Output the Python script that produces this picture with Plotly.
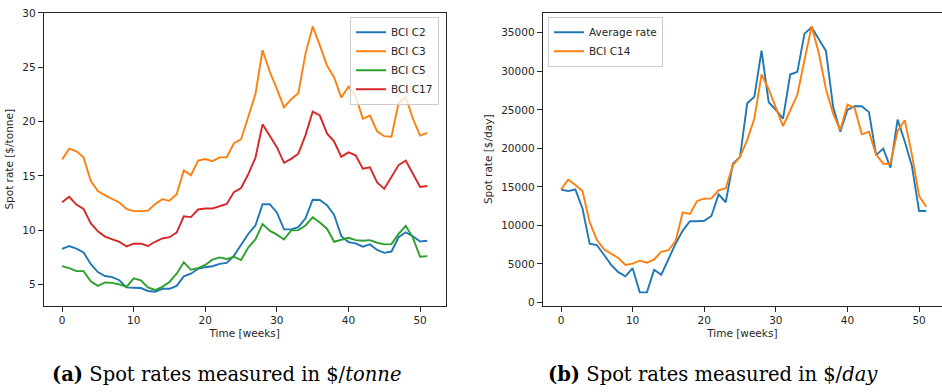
import plotly.graph_objects as go

weeks = list(range(52))

bci_c2 = [8.27, 8.54, 8.30, 7.94, 6.89, 6.14, 5.78, 5.68, 5.39, 4.73, 4.70, 4.67, 4.40, 4.33, 4.60, 4.60,
          4.87, 5.75, 5.99, 6.44, 6.59, 6.68, 6.89, 6.98, 7.64, 8.69, 9.65, 10.43, 12.39, 12.39, 11.63, 10.07,
          10.07, 10.28, 11.09, 12.80, 12.77, 12.30, 11.40, 9.44, 8.90, 8.78, 8.48, 8.69, 8.18, 7.91, 8.03, 9.35,
          9.80, 9.44, 8.96, 9.02]
bci_c3 = [16.5, 17.5, 17.25, 16.7, 14.55, 13.6, 13.2, 12.85, 12.55, 11.95, 11.75, 11.75, 11.8, 12.4, 12.85, 12.7,
          13.3, 15.5, 15.05, 16.4, 16.55, 16.35, 16.7, 16.7, 18.0, 18.35, 20.4, 22.5, 26.56, 24.6, 23.0, 21.3,
          22.05, 22.6, 26.25, 28.75, 27.0, 25.15, 24.05, 22.2, 23.2, 22.35, 20.25, 20.55, 19.1, 18.65, 18.6, 21.7,
          22.25, 20.25, 18.7, 18.95]
bci_c5 = [6.68, 6.50, 6.23, 6.23, 5.30, 4.87, 5.18, 5.15, 5.00, 4.78, 5.57, 5.39, 4.73, 4.49, 4.78, 5.23,
          5.99, 7.04, 6.35, 6.50, 6.80, 7.28, 7.49, 7.34, 7.55, 7.25, 8.39, 9.14, 10.55, 9.95, 9.59, 9.14,
          9.98, 10.00, 10.43, 11.18, 10.70, 10.13, 8.93, 9.08, 9.29, 9.08, 9.02, 9.08, 8.84, 8.69, 8.71, 9.65,
          10.40, 9.29, 7.55, 7.61]
bci_c17 = [12.57, 13.07, 12.35, 11.96, 10.64, 9.89, 9.41, 9.17, 8.93, 8.51, 8.75, 8.75, 8.54, 8.93, 9.23, 9.35,
           9.77, 11.27, 11.20, 11.90, 11.99, 11.99, 12.23, 12.41, 13.50, 13.88, 15.14, 16.65, 19.74, 18.75, 17.64, 16.20,
           16.56, 17.04, 18.75, 20.90, 20.55, 18.90, 18.15, 16.74, 17.16, 16.89, 15.66, 15.78, 14.40, 13.80, 14.85, 15.99,
           16.40, 15.23, 13.97, 14.06]

average_rate = [14665, 14450, 14665, 12200, 7626, 7460, 6190, 4880, 3940, 3390, 4450, 1320, 1320, 4240, 3600, 5640,
                7630, 9330, 10550, 10550, 10600, 11230, 14030, 13010, 18010, 18900, 25850, 26690, 32670, 25980, 25000, 23860,
                29580, 29920, 34880, 35720, 34240, 32630, 25350, 22170, 25000, 25470, 25470, 24700, 19120, 19960, 17500, 23730,
                20900, 17720, 11870, 11870]
bci_c14 = [14665, 15950, 15250, 14450, 10420, 8130, 6910, 6360, 5770, 4880, 5050, 5430, 5170, 5590, 6570, 6780,
           7970, 11690, 11490, 13180, 13470, 13510, 14540, 14830, 17840, 18900, 21100, 23860, 29580, 27670, 25340, 22880,
           24910, 26950, 31480, 35840, 32330, 27670, 24490, 22370, 25670, 25250, 21820, 22170, 19190, 18010, 18010, 22240,
           23640, 19190, 13820, 12420]

left_series = [("BCI C2", bci_c2, "#1f77b4"), ("BCI C3", bci_c3, "#ff7f0e"),
               ("BCI C5", bci_c5, "#2ca02c"), ("BCI C17", bci_c17, "#d62728")]
right_series = [("Average rate", average_rate, "#1f77b4"), ("BCI C14", bci_c14, "#ff7f0e")]

left_yticks = [5, 10, 15, 20, 25, 30]
right_yticks = [0, 5000, 10000, 15000, 20000, 25000, 30000, 35000]
xticks = [0, 10, 20, 30, 40, 50]

W, H = 942, 392
fig = go.Figure()
for name, vals, col in left_series:
    fig.add_trace(go.Scatter(x=weeks, y=vals, name=name, mode="lines",
                             line=dict(color=col, width=1.9), xaxis="x", yaxis="y", legend="legend"))
for name, vals, col in right_series:
    fig.add_trace(go.Scatter(x=weeks, y=vals, name=name, mode="lines",
                             line=dict(color=col, width=1.9), xaxis="x2", yaxis="y2", legend="legend2"))

tickfont = dict(family="DejaVu Sans", size=10.5, color="#262626")
axcommon = dict(showgrid=False, zeroline=False, showline=True, linecolor="#262626", linewidth=1,
                ticks="outside", ticklen=5, tickwidth=1, tickcolor="#262626", tickfont=tickfont)
ybot = (H - 306) / H
ytop = (H - 7) / H

fig.update_layout(
    width=W, height=H, margin=dict(l=0, r=0, t=0, b=0),
    paper_bgcolor="white", plot_bgcolor="white",
    xaxis=dict(domain=[43.8 / W, 445.5 / W], range=[-2.55, 53.55], tickvals=xticks, mirror=True,
               title=dict(text="Time [weeks]", font=tickfont, standoff=4), anchor="y", **axcommon),
    yaxis=dict(domain=[ybot, ytop], range=[3.04, 30.0], tickvals=left_yticks, mirror=True,
               title=dict(text="Spot rate [$/tonne]", font=tickfont, standoff=6), anchor="x", **axcommon),
    xaxis2=dict(domain=[542.7 / W, 1.0], range=[-2.556, 53.2], tickvals=xticks, mirror=True,
                title=dict(text="Time [weeks]", font=tickfont, standoff=4), anchor="y2", **axcommon),
    yaxis2=dict(domain=[ybot, ytop], range=[-420, 37580], tickvals=right_yticks, tickformat="d", mirror=False,
                title=dict(text="Spot rate [$/day]", font=tickfont, standoff=6), anchor="x2", **axcommon),
    legend=dict(x=439 / W, y=(H - 11) / H, xanchor="right", yanchor="top", bgcolor="rgba(255,255,255,0.8)",
                bordercolor="#cccccc", borderwidth=1, font=tickfont, itemwidth=30, tracegroupgap=0),
    legend2=dict(x=548 / W, y=(H - 11) / H, xanchor="left", yanchor="top", bgcolor="rgba(255,255,255,0.8)",
                 bordercolor="#cccccc", borderwidth=1, font=tickfont, itemwidth=30, tracegroupgap=0),
    annotations=[
        dict(text="<b>(a)</b> Spot rates measured in $/<i>tonne</i>", x=226 / W, y=(H - 376) / H,
             xref="paper", yref="paper", showarrow=False, xanchor="center", yanchor="middle",
             font=dict(family="DejaVu Serif", size=19.5, color="black")),
        dict(text="<b>(b)</b> Spot rates measured in $/<i>day</i>", x=713 / W, y=(H - 376) / H,
             xref="paper", yref="paper", showarrow=False, xanchor="center", yanchor="middle",
             font=dict(family="DejaVu Serif", size=19.5, color="black")),
    ],
)

fig.write_html("out.html")
